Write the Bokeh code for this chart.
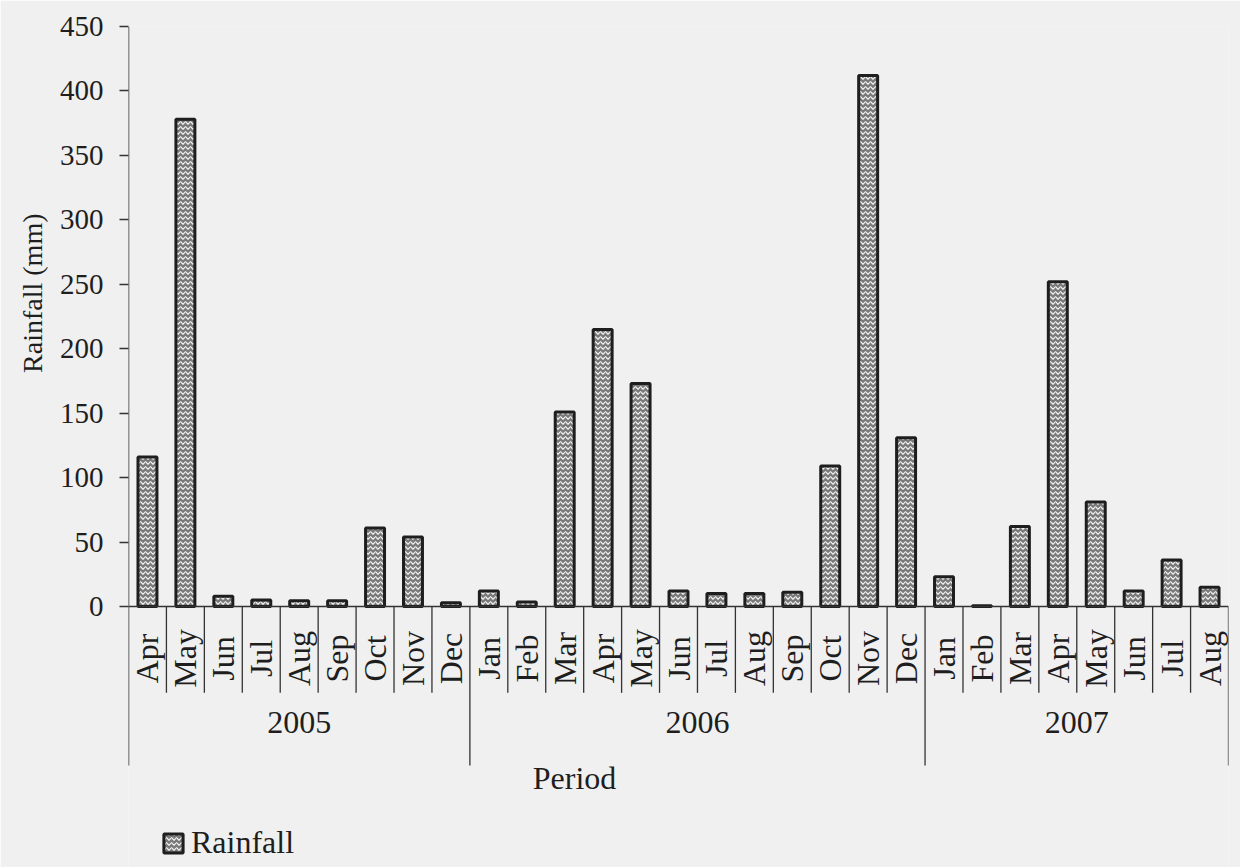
import math
from bokeh.plotting import figure
from bokeh.models import (FactorRange, Range1d, FixedTicker, Span, Legend, LegendItem,
                          Title, Label, ColumnDataSource)
from bokeh.core.properties import value
from bokeh.embed import file_html
from bokeh.resources import INLINE

# ---- data ----
years = ["2005"] * 9 + ["2006"] * 12 + ["2007"] * 8
months = ["Apr", "May", "Jun", "Jul", "Aug", "Sep", "Oct", "Nov", "Dec",
          "Jan", "Feb", "Mar", "Apr", "May", "Jun", "Jul", "Aug", "Sep", "Oct", "Nov", "Dec",
          "Jan", "Feb", "Mar", "Apr", "May", "Jun", "Jul", "Aug"]
rainfall = [116, 378, 8, 5, 4.5, 4.5, 61, 54, 3,
            12, 3.5, 151, 215, 173, 12, 10, 10, 11, 109, 412, 131,
            23, 0.5, 62, 252, 81, 12, 36, 15]
year_names = ["2005", "2006", "2007"]
y_ticks = [0, 50, 100, 150, 200, 250, 300, 350, 400, 450]

FONT = "Liberation Serif"
BG = "#f0f0f0"
INK = "#1e1e1e"
AXIS = "#333333"

factors = list(zip(years, months))

Y_BOTTOM = -202.5      # frame extends down to the window bottom
SEP_MONTH = -67.0      # depth of the month separators
SEP_YEAR = -123.4      # depth of the year separators

p = figure(width=1240, height=867,
           x_range=FactorRange(*factors, factor_padding=0, group_padding=0,
                               subgroup_padding=0, range_padding=0),
           y_range=Range1d(Y_BOTTOM, 450),
           output_backend="svg", toolbar_location=None,
           min_border_left=128, min_border_right=12, min_border_top=26,
           min_border_bottom=0)
p.background_fill_color = BG
p.border_fill_color = BG
p.outline_line_color = None
p.grid.visible = False

src = ColumnDataSource(dict(x=factors, top=rainfall))
bars = p.vbar(x="x", top="top", width=0.5, source=src,
              fill_color="#7a7a7a", hatch_pattern="horizontal_wave",
              hatch_color="#f4f4f4", hatch_scale=5, hatch_weight=1.2,
              line_color=INK, line_width=3)

# zero line
p.add_layout(Span(location=0, dimension="width", line_color=AXIS, line_width=1.5))

# separators of the category axis (and the left axis line)
month_sep_x, year_sep_x = [], []
for i, (yr, mo) in enumerate(factors):
    if i > 0:
        if yr == years[i - 1]:
            month_sep_x.append((yr, mo, -0.5))
        else:
            year_sep_x.append((yr, mo, -0.5))
year_sep_x.append(factors[-1] + (0.5,))

p.segment(x0=month_sep_x, y0=[0] * len(month_sep_x), x1=month_sep_x,
          y1=[SEP_MONTH] * len(month_sep_x), line_color=AXIS, line_width=1.3)
p.segment(x0=year_sep_x, y0=[0] * len(year_sep_x), x1=year_sep_x,
          y1=[SEP_YEAR] * len(year_sep_x), line_color=AXIS, line_width=1.3)
left_edge = [factors[0] + (-0.5,)]
p.segment(x0=left_edge, y0=[y_ticks[-1]], x1=left_edge, y1=[SEP_YEAR],
          line_color=AXIS, line_width=1.5)

# month labels
p.text(x=factors, y=[-40.3] * len(factors), text=months, angle=math.pi / 2,
       text_align="center", text_baseline="middle", text_font=value(FONT),
       text_font_size="32px", text_color=INK)
# year labels
p.text(x=year_names, y=[-90] * len(year_names), text=year_names,
       text_align="center", text_baseline="middle", text_font=value(FONT),
       text_font_size="32px", text_color=INK)

# axes
p.xaxis.visible = False
yax = p.yaxis[0]
yax.ticker = FixedTicker(ticks=y_ticks)
yax.major_label_text_font = FONT
yax.major_label_text_font_size = "29px"
yax.major_label_text_color = INK
yax.major_tick_out = 9
yax.major_tick_in = 0
yax.minor_tick_line_color = None
yax.axis_line_color = None
yax.major_tick_line_color = AXIS
yax.major_tick_line_width = 1.5
yax.major_label_standoff = 16

p.add_layout(Title(text="Rainfall (mm)", align="right", offset=187,
                   text_font=FONT, text_font_size="28px", text_font_style="normal",
                   text_color=INK, standoff=18), "left")

p.add_layout(Label(x=446, y=90, x_units="screen", y_units="screen", text="Period",
                   text_align="center", text_baseline="middle", text_font=FONT,
                   text_font_size="32px", text_color=INK))

legend = Legend(items=[LegendItem(label="Rainfall", renderers=[bars])],
                location=(33, 6), orientation="horizontal",
                label_text_font=FONT, label_text_font_size="32px", label_text_color=INK,
                glyph_width=24, glyph_height=24, label_standoff=6,
                background_fill_alpha=0, border_line_color=None,
                margin=0, padding=2)
p.add_layout(legend, "center")

open("out.html", "w").write(file_html(p, INLINE))
